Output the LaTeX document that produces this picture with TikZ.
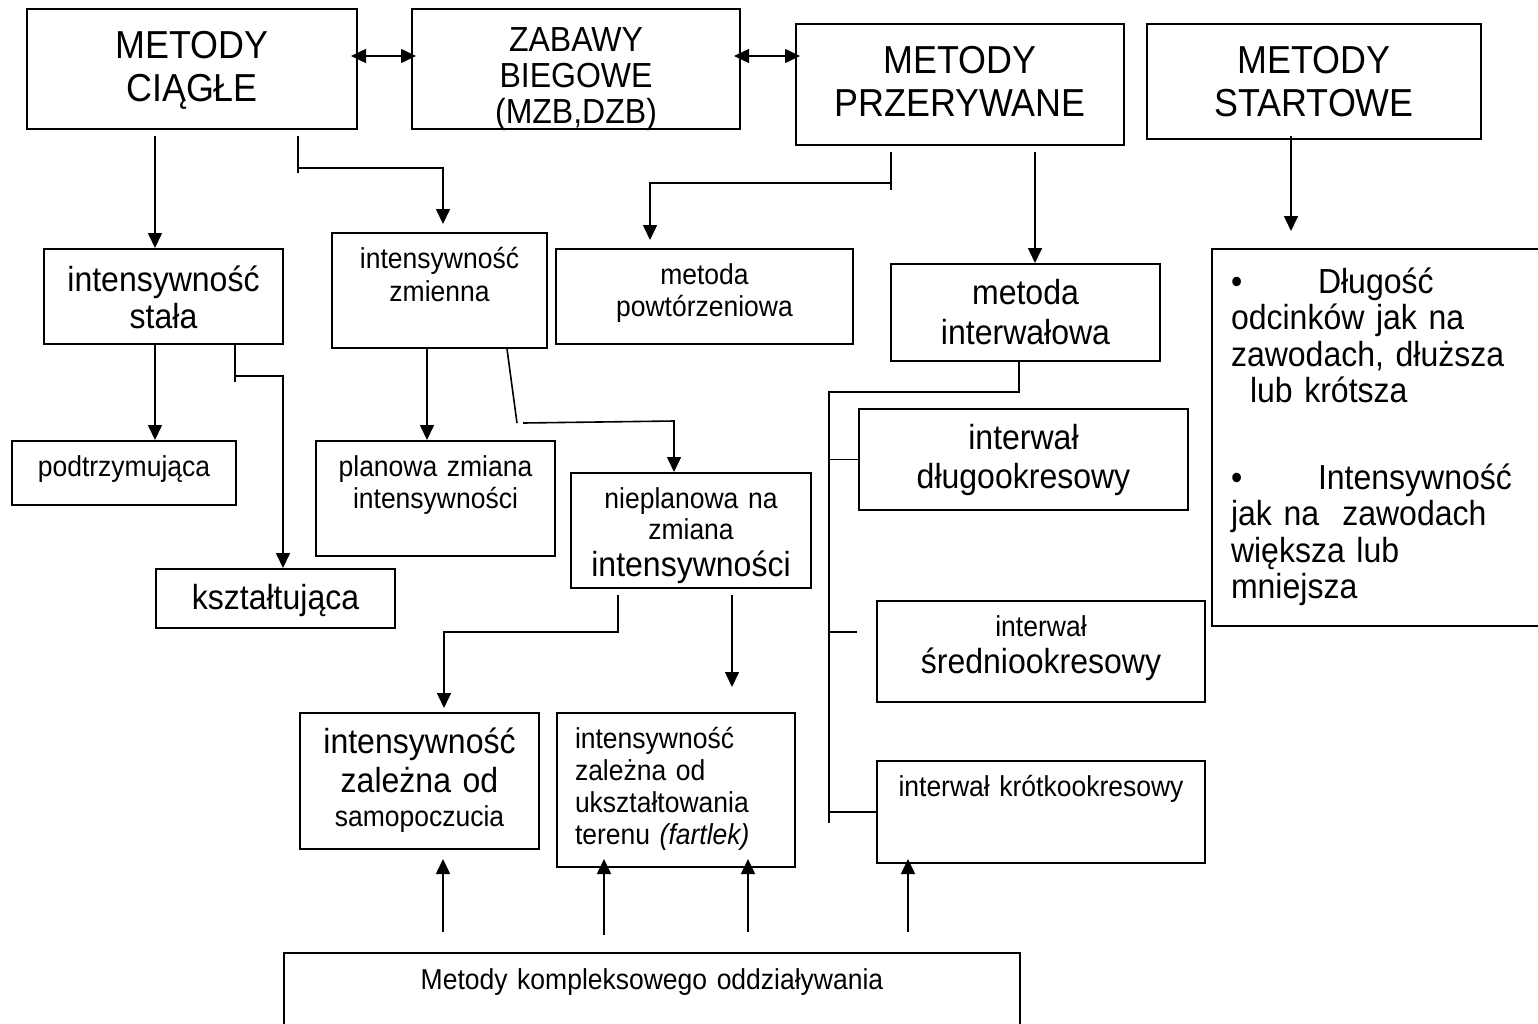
\documentclass[tikz,border=0pt]{standalone}
\usepackage{fontspec}
\setmainfont[FakeStretch=0.92]{Liberation Sans}
\usetikzlibrary{arrows.meta}
\tikzset{>={Triangle[length=15pt,width=14pt]}}
\tikzset{
  box/.style={draw, line width=2pt, anchor=north west, inner sep=0pt, align=center},
  big/.style={font=\fontsize{39}{43}\selectfont},
  mid/.style={font=\fontsize{34.8}{37}\selectfont},
  sml/.style={font=\fontsize{28.8}{32}\selectfont},
  ln/.style={line width=1.6pt},
  arr/.style={ln, ->},
  dbl/.style={ln, <->, shorten <=-7pt, shorten >=-5pt},
}
\newcommand{\fMid}{\fontsize{34.8}{37}\selectfont}
\newcommand{\fSml}{\fontsize{28.8}{32}\selectfont}

\begin{document}
\begin{tikzpicture}[x=1pt, y=-1pt]

  \useasboundingbox (0,0) rectangle (1538,1023); %% page

  %% top row
  \node[box, big, text width=330pt, text height=49pt, text depth=71pt]
  (ciagle) at (26,8) {METODY\\CIĄGŁE};
  \node[box, font=\fontsize{34.8}{36}\selectfont, text width=328pt, text height=42pt, text depth=78pt]
  (zabawy) at (411,8) {ZABAWY\\BIEGOWE\\(MZB,DZB)};
  \node[box, big, text width=328pt, text height=49pt, text depth=72pt]
  (przer) at (795,23) {METODY\\PRZERYWANE};
  \node[box, big, text width=334pt, text height=49pt, text depth=66pt]
  (start) at (1146,23) {METODY\\STARTOWE};

  %% second row
  \node[box, mid, text width=239pt, text height=42pt, text depth=53pt]
  (stala) at (43,248) {intensywność\\stała};
  \node[box, font=\fontsize{28.8}{33}\selectfont, text width=215pt, text height=35pt, text depth=80pt]
  (zmienna) at (331,232) {intensywność\\zmienna};
  \node[box, sml, text width=297pt, text height=35pt, text depth=60pt]
  (powt) at (555,248) {metoda\\powtórzeniowa};
  \node[box, font=\fontsize{34.8}{40}\selectfont, text width=269pt, text height=40pt, text depth=57pt]
  (interw) at (890,263) {metoda\\interwałowa};
  \node[box, font=\fontsize{34.8}{36.5}\selectfont, align=left, inner xsep=19pt,
    text width=311pt, text height=44pt, text depth=333pt]
  (lista) at (1211,248) {\makebox[87pt][l]{\textbullet}Długość\\odcinków jak na\\zawodach, dłuższa\\
    \hspace*{19pt}lub krótsza\\[50pt]\makebox[87pt][l]{\textbullet}Intensywność\\jak na\ \ zawodach\\
    większa lub\\mniejsza};

  %% third row
  \node[box, sml, text width=224pt, text height=35pt, text depth=29pt]
  (podtrz) at (11,440) {podtrzymująca};
  \node[box, mid, text width=239pt, text height=40pt, text depth=19pt]
  (kszt) at (155,568) {kształtująca};
  \node[box, sml, text width=239pt, text height=35pt, text depth=80pt]
  (planowa) at (315,440) {planowa zmiana\\intensywności};
  \node[box, font=\fontsize{28.8}{31}\selectfont, text width=240pt, text height=35pt, text depth=80pt]
  (nieplan) at (570,472) {nieplanowa na\\zmiana\\[6pt]{\fMid intensywności}};
  \node[box, font=\fontsize{34.8}{39}\selectfont, text width=329pt, text height=40pt, text depth=61pt]
  (dlugo) at (858,408) {interwał\\długookresowy};
  \node[box, font=\fontsize{28.8}{37}\selectfont, text width=328pt, text height=35pt, text depth=66pt]
  (sredn) at (876,600) {interwał\\{\fMid średniookresowy}};
  \node[box, sml, text width=328pt, text height=35pt, text depth=67pt]
  (krotko) at (876,760) {interwał krótkookresowy};

  %% fourth row
  \node[box, font=\fontsize{34.8}{39}\selectfont, text width=239pt, text height=40pt, text depth=96pt]
  (samop) at (299,712) {intensywność\\zależna od\\[-5pt]{\fSml samopoczucia}};
  \node[box, sml, align=left, inner xsep=18pt, text width=202pt, text height=35pt, text depth=119pt]
  (teren) at (556,712) {intensywność\\zależna od\\ukształtowania\\terenu \textit{(fartlek)}};
  \node[box, sml, text width=736pt, text height=36pt, text depth=54pt]
  (kompl) at (283,952) {Metody kompleksowego oddziaływania};

  %% connectors, top
  \coordinate (row) at (0,56);
  \draw[dbl] (ciagle.east |- row) -- (zabawy.west |- row);
  \draw[dbl] (zabawy.east |- row) -- (przer.west |- row);

  \coordinate (c1) at (155,136);
  \draw[arr] (c1) -- (c1 |- stala.north);
  \coordinate (c2) at (298,136);
  \coordinate (c3) at (443,168);
  \draw[ln] (c2) -- ++(0,37);
  \draw[arr, shorten >=8pt] (c2 |- c3) -- (c3) -- (c3 |- zmienna.north);

  \coordinate (p1) at (891,152);
  \coordinate (p2) at (650,183);
  \draw[ln] (p1) -- ++(0,38);
  \draw[arr, shorten >=8pt] (p1 |- p2) -- (p2) -- (p2 |- powt.north);
  \coordinate (p3) at (1035,152);
  \draw[arr] (p3) -- (p3 |- interw.north);

  \coordinate (s1) at (1291,136);
  \draw[arr, shorten >=17pt] (s1) -- (s1 |- lista.north);

  %% connectors, middle
  \draw[arr] (c1 |- stala.south) -- (c1 |- podtrz.north);
  \coordinate (k1) at (235,344);
  \coordinate (k2) at (283,376);
  \draw[ln] (k1) -- ++(0,38);
  \draw[arr] (k1 |- k2) -- (k2) -- (k2 |- kszt.north);

  \coordinate (z1) at (427,0);
  \draw[arr] (z1 |- zmienna.south) -- (z1 |- planowa.north);
  \coordinate (z2) at (507,0);
  \coordinate (z3) at (517,423);
  \coordinate (z4) at (674,421);
  \draw[ln] (z2 |- zmienna.south) -- (z3);
  \draw[arr] (z3) ++(6,0) -- (z4) -- (z4 |- nieplan.north);

  \coordinate (n1) at (618,0);
  \coordinate (n2) at (444,632);
  \draw[arr, shorten >=4pt] (n1 |- nieplan.south) ++(0,6) |- (n2) -- (n2 |- samop.north);
  \coordinate (n3) at (732,0);
  \draw[arr, shorten >=25pt] (n3 |- nieplan.south) ++(0,6) -- (n3 |- teren.north);

  \coordinate (i1) at (1019,0);
  \coordinate (b1) at (829,392);
  \coordinate (b2) at (829,823);
  \coordinate (b3) at (857,632);
  \draw[ln] (i1 |- interw.south) |- (b1) -- (b2);
  \draw[ln] (b1 |- dlugo.west) -- (dlugo.west);
  \draw[ln] (b1 |- b3) -- (b3);
  \draw[ln] (b1 |- krotko.west) -- (krotko.west);

  %% connectors, bottom
  \coordinate (u1) at (443,932);
  \coordinate (u2) at (604,935);
  \coordinate (u3) at (748,932);
  \coordinate (u4) at (908,932);
  \draw[arr, shorten >=9pt] (u1) -- (u1 |- samop.south);
  \draw[arr, shorten >=-9pt] (u2) -- (u2 |- teren.south);
  \draw[arr, shorten >=-9pt] (u3) -- (u3 |- teren.south);
  \draw[arr, shorten >=-5pt] (u4) -- (u4 |- krotko.south);

\end{tikzpicture}
\end{document}
